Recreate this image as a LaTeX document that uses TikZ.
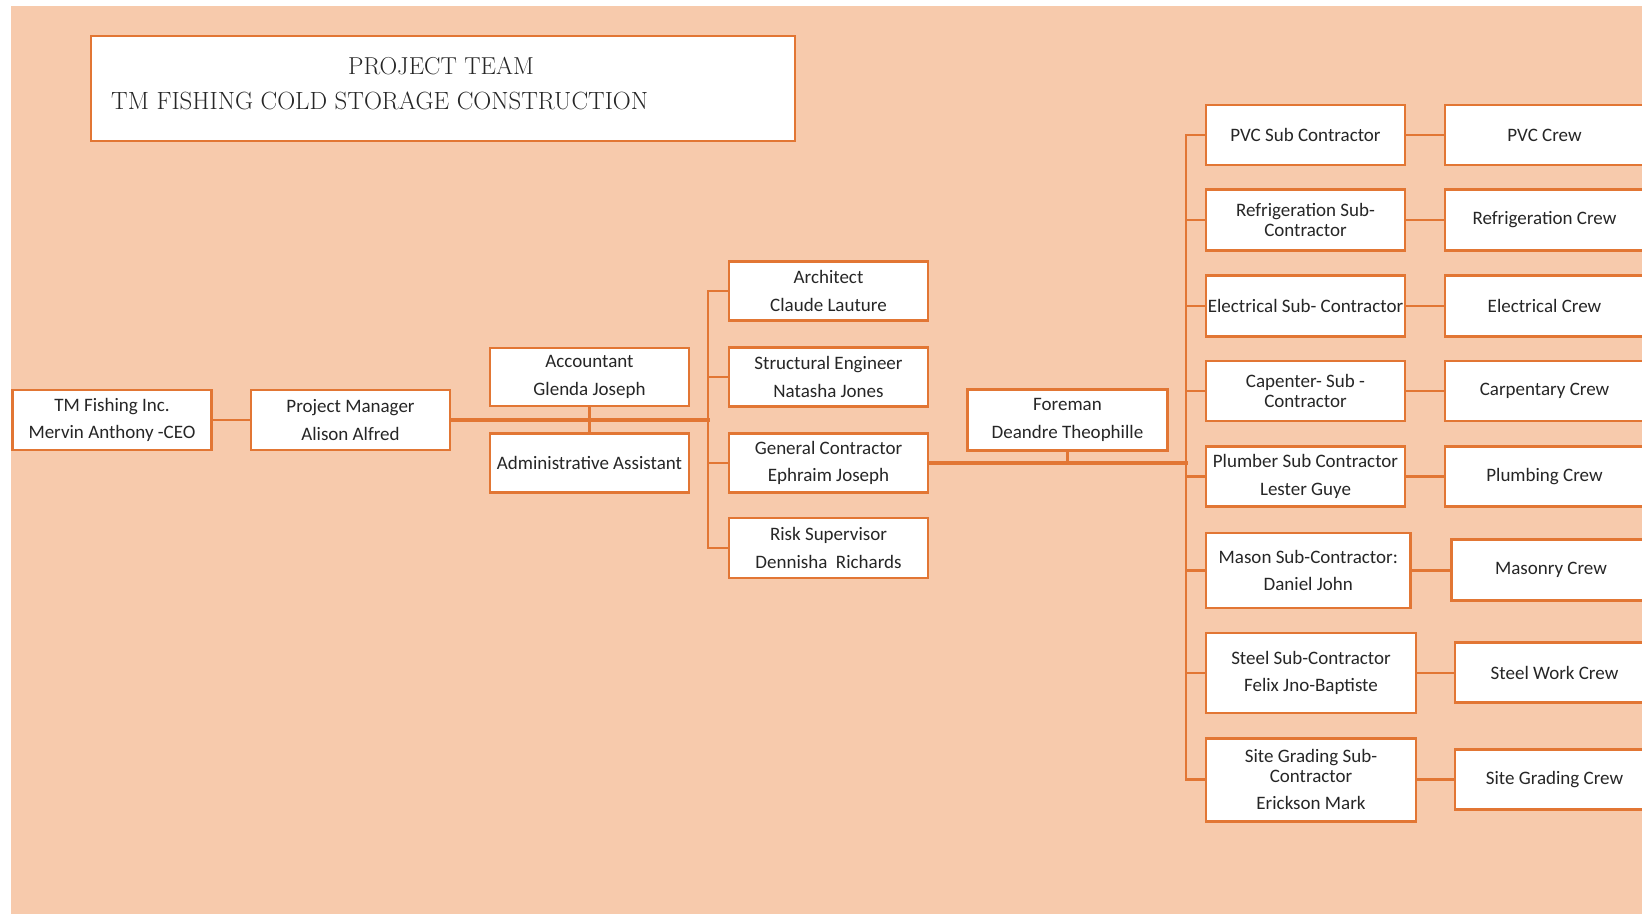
\documentclass[tikz,border=0pt]{standalone}
\usepackage{fontspec}
\setsansfont{Carlito}
\definecolor{pagebg}{HTML}{F7CAAC}
\definecolor{orgline}{RGB}{226,118,52}
\definecolor{boxtext}{RGB}{38,38,38}
\begin{document}
\begin{tikzpicture}[x=1pt,y=-1pt,
  box/.style={draw=orgline, line width=2.9pt, fill=white, minimum width=199pt,
    minimum height=59pt, inner sep=1pt, align=center, text=boxtext,
    font=\sffamily\fontsize{19}{27.5}\selectfont},
  link/.style={draw=orgline, line width=2.9pt, line cap=rect},
  trunk/.style={link, line width=3.9pt},
  titletext/.style={inner sep=0pt, text=boxtext, font=\fontsize{24.5}{28}\selectfont}]

\useasboundingbox (0,0) rectangle (1642,914);
\clip (0,0) rectangle (1642,914);
\fill[pagebg] (11,6) rectangle (1642,914);

% heading
\node[draw=orgline, line width=2.9pt, fill=white, minimum width=704pt, minimum height=105pt] (title) at (443,88.5) {};
\node[titletext, anchor=base] (t1) at (441,74) {PROJECT TEAM};
\node[titletext, anchor=base west, font=\fontsize{24.9}{28}\selectfont] (t2) at (111,109.5) {TM FISHING COLD STORAGE CONSTRUCTION};

% management chain
\node[box, minimum height=60pt] (ceo) at (112,420) {TM Fishing Inc.\\Mervin Anthony -CEO};
\node[box, minimum height=60pt] (pm) at (350.5,420) {Project Manager\\Alison Alfred};
\node[box, minimum height=58pt] (acc) at (589.5,377) {Accountant\\Glenda Joseph};
\node[box] (admin) at (589.5,463) {Administrative Assistant};

% consultants
\node[box] (arch) at (828.5,291) {Architect\\Claude Lauture};
\node[box] (struct) at (828.5,377) {Structural Engineer\\Natasha Jones};
\node[box] (gc) at (828.5,463) {General Contractor\\Ephraim Joseph};
\node[box, minimum height=60pt] (risk) at (828.5,548) {Risk Supervisor\\Dennisha~ Richards};
\node[box, minimum width=200pt, minimum height=61pt] (foreman) at (1067.5,420) {Foreman\\Deandre Theophille};

% sub-contractors
\node[box, minimum height=60pt] (pvc) at (1305.5,135) {PVC Sub Contractor};
\node[box, minimum height=61pt] (refr) at (1305.5,220) {Refrigeration Sub-\\[-8pt]Contractor};
\node[box, minimum height=61pt] (elec) at (1305.5,306) {Electrical Sub- Contractor};
\node[box, minimum height=60pt] (carp) at (1305.5,391) {Capenter- Sub -\\[-8pt]Contractor};
\node[box, minimum height=60pt] (plumb) at (1305.5,476.5) {Plumber Sub Contractor\\Lester Guye};
\node[box, minimum width=204.6pt, minimum height=75pt] (mason) at (1308.3,570.5) {Mason Sub-Contractor:\\Daniel John};
\node[box, minimum width=210pt, minimum height=80pt] (steel) at (1311,673) {Steel Sub-Contractor\\Felix Jno-Baptiste};
\node[box, minimum width=210pt, minimum height=83pt] (grade) at (1311,779.6) {Site Grading Sub-\\[-8pt]Contractor\\Erickson Mark};

% crews
\node[box, minimum height=60pt] (pvcc) at (1544.5,135) {PVC Crew};
\node[box, minimum height=61pt] (refrc) at (1544.5,220) {Refrigeration Crew};
\node[box, minimum height=61pt] (elecc) at (1544.5,306) {Electrical Crew};
\node[box, minimum height=60pt] (carpc) at (1544.5,391) {Carpentary Crew};
\node[box, minimum height=60pt] (plumbc) at (1544.5,476.5) {Plumbing Crew};
\node[box, minimum height=61pt] (masonc) at (1551,569.7) {Masonry Crew};
\node[box, minimum height=60pt] (steelc) at (1554.5,672.7) {Steel Work Crew};
\node[box, minimum height=60pt] (gradec) at (1554.5,779.3) {Site Grading Crew};

% bus junctions
\coordinate (b1) at (708,420);
\coordinate (b2) at (1186,463);

% connectors
\draw[link] (ceo) -- (pm);
\draw[trunk] (pm.east) -- (b1);
\draw[link] (acc) -- (admin);
\draw[link] (arch.west) -| (b1);
\draw[link] (risk.west) -| (b1);
\draw[link] (struct.west) -- (struct.west -| b1);
\draw[link] (gc.west) -- (gc.west -| b1);
\draw[trunk] (gc.east) -- (b2);
\draw[link] (foreman.south) -- (foreman.south |- b2);
\draw[link] (pvc.west) -| (b2);
\draw[link] (grade.west) -| (b2);
\foreach \s in {refr,elec,carp,plumb,mason,steel}
  \draw[link] (\s.west) -- (\s.west -| b2);
\foreach \s in {pvc,refr,elec,carp,plumb,mason,steel,grade}
  \draw[link] (\s.east) -- (\s.east -| \s c.west);
\end{tikzpicture}
\end{document}
